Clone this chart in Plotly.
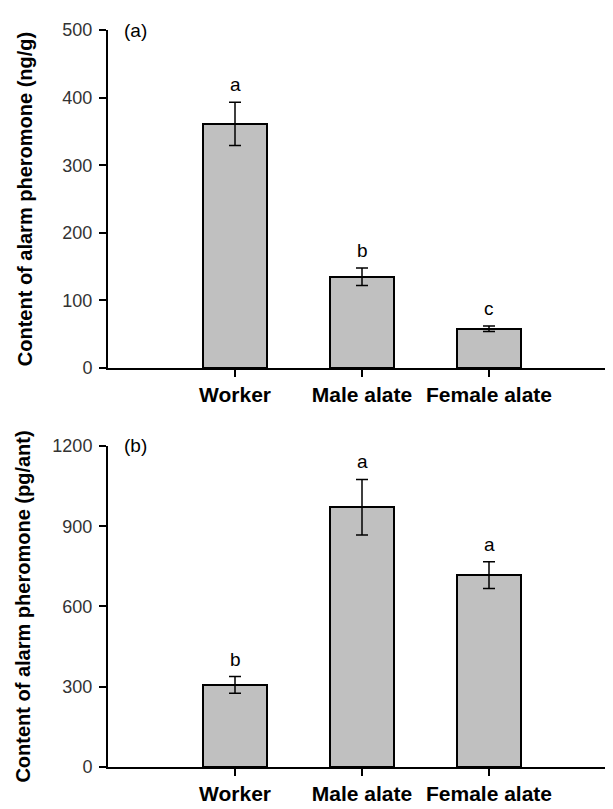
import plotly.graph_objects as go
from plotly.subplots import make_subplots

categories = ["Worker", "Male alate", "Female alate"]

# Panel (a): ng/g
a_values = [361, 135, 58]
a_errors = [32, 13, 4]
a_letters = ["a", "b", "c"]

# Panel (b): pg/ant
b_values = [307, 971, 717]
b_errors = [31, 104, 50]
b_letters = ["b", "a", "a"]

a_ticks = [0, 100, 200, 300, 400, 500]
b_ticks = [0, 300, 600, 900, 1200]

FONT = "Arial, Liberation Sans, sans-serif"

fig = make_subplots(rows=2, cols=1, vertical_spacing=0.1)

for row, vals, errs in [(1, a_values, a_errors), (2, b_values, b_errors)]:
    fig.add_trace(go.Bar(
        x=categories, y=vals, width=0.5,
        marker=dict(color="#c0c0c0", line=dict(color="black", width=2)),
        error_y=dict(type="data", array=errs, visible=True,
                     color="black", thickness=1.5, width=6),
        showlegend=False,
    ), row=row, col=1)

# significance letters above error bars
for xref, yref, vals, errs, letters in [("x", "y", a_values, a_errors, a_letters),
                                         ("x2", "y2", b_values, b_errors, b_letters)]:
    for c, v, e, l in zip(categories, vals, errs, letters):
        fig.add_annotation(x=c, y=v + e, xref=xref, yref=yref, text=l,
                           showarrow=False, yanchor="bottom", yshift=5,
                           font=dict(family=FONT, size=19, color="black"))

a_dom = [0.5414, 1.0]
b_dom = [0.0, 0.4356]

# panel labels
fig.add_annotation(x=0.027, y=a_dom[1], xref="paper", yref="paper", text="(a)",
                   showarrow=False, xanchor="left", yanchor="middle",
                   font=dict(family=FONT, size=19, color="black"))
fig.add_annotation(x=0.027, y=b_dom[1], xref="paper", yref="paper", text="(b)",
                   showarrow=False, xanchor="left", yanchor="middle",
                   font=dict(family=FONT, size=19, color="black"))

xcommon = dict(range=[-1, 3], showline=True, linecolor="black", linewidth=2,
               ticks="outside", ticklen=7, tickwidth=1.5, tickcolor="black",
               tickfont=dict(family=FONT, size=21, color="black", weight="bold"),
               ticklabelstandoff=0, showgrid=False, zeroline=False, automargin=False)
fig.update_xaxes(**xcommon, row=1, col=1)
fig.update_xaxes(**xcommon, row=2, col=1)

ycommon = dict(showline=True, linecolor="black", linewidth=2,
               ticks="outside", ticklen=7, tickwidth=1.5, tickcolor="black",
               tickfont=dict(family=FONT, size=18, color="#333333"),
               ticklabelstandoff=3, showgrid=False, zeroline=False, automargin=False)
fig.update_yaxes(**ycommon, range=[0, 500], tickvals=a_ticks, domain=a_dom,
                 title=dict(text="Content of alarm pheromone (ng/g)", standoff=24,
                            font=dict(family=FONT, size=20, color="black", weight="bold")),
                 row=1, col=1)
fig.update_yaxes(**ycommon, range=[0, 1200], tickvals=b_ticks, domain=b_dom,
                 title=dict(text="Content of alarm pheromone (pg/ant)", standoff=16,
                            font=dict(family=FONT, size=20, color="black", weight="bold")),
                 row=2, col=1)

fig.update_layout(width=613, height=809, margin=dict(l=100, r=5, t=22, b=50),
                  plot_bgcolor="white", paper_bgcolor="white", bargap=0)

fig.write_html("out.html")
